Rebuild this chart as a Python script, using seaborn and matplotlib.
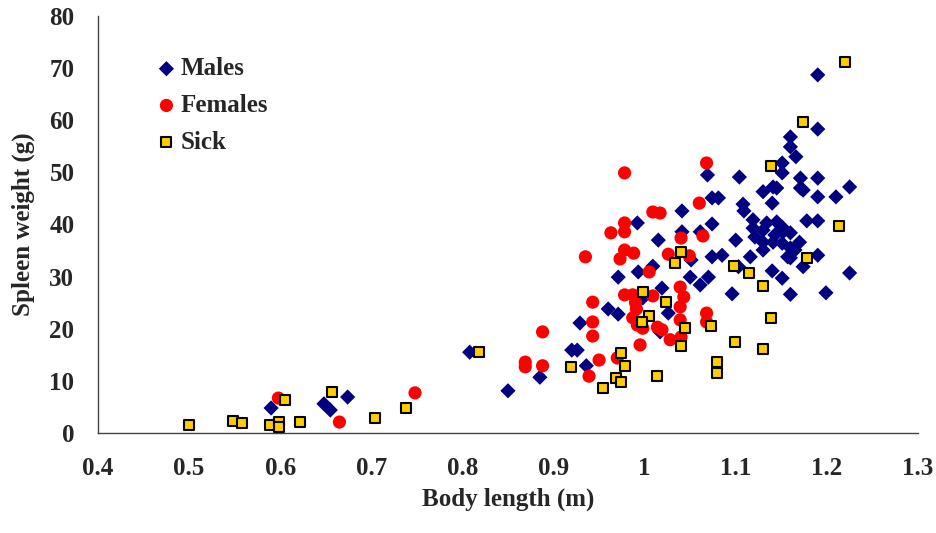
import pandas as pd
import seaborn as sns
import matplotlib.pyplot as plt

# values
males_x = [0.590, 0.648, 0.655, 0.674, 0.808, 0.850, 0.885, 0.920, 0.926, 0.929,
           0.936, 0.960, 0.971, 0.971, 0.992, 0.993, 0.998, 1.009, 1.015, 1.017,
           1.019, 1.026, 1.041, 1.041, 1.050, 1.051, 1.061, 1.061, 1.069, 1.070,
           1.074, 1.081, 1.074, 1.074, 1.085, 1.096, 1.100, 1.103, 1.104, 1.108,
           1.109, 1.116, 1.119, 1.119, 1.121, 1.130, 1.130, 1.130, 1.134, 1.140,
           1.140, 1.141, 1.141, 1.145, 1.145, 1.151, 1.151, 1.151, 1.151, 1.151,
           1.160, 1.160, 1.160, 1.160, 1.160, 1.160, 1.165, 1.166, 1.171, 1.171,
           1.174, 1.174, 1.178, 1.190, 1.190, 1.190, 1.190, 1.190, 1.190, 1.199,
           1.210, 1.225, 1.225, 1.152, 1.143, 1.157, 1.130, 1.170]
males_y = [4.8, 5.6, 4.4, 6.9, 15.5, 8.1, 10.7, 15.9, 15.9, 21.1,
           12.9, 23.8, 22.8, 29.9, 40.3, 30.9, 25.9, 32.0, 37.0, 19.4,
           27.8, 23.0, 42.6, 38.6, 29.9, 33.2, 38.6, 28.4, 49.5, 29.9,
           45.1, 45.1, 40.1, 33.8, 34.1, 26.7, 37.0, 31.9, 49.1, 43.9,
           42.6, 33.8, 40.9, 39.3, 37.6, 46.3, 38.9, 36.6, 40.3, 44.1,
           31.1, 47.2, 36.6, 47.0, 40.5, 51.8, 49.9, 39.5, 36.4, 29.7,
           56.8, 54.9, 38.4, 35.5, 33.6, 26.6, 35.1, 53.0, 48.9, 47.0,
           46.6, 31.9, 40.7, 68.7, 58.3, 48.9, 45.3, 40.7, 34.1, 26.9,
           45.3, 47.2, 30.7, 38.6, 38.0, 33.8, 35.1, 36.6]

females_x = [0.598, 0.665, 0.748, 0.869, 0.869, 0.888, 0.888, 0.935, 0.939, 0.943,
             0.943, 0.943, 0.950, 0.963, 0.970, 0.973, 0.978, 0.978, 0.978, 0.978,
             0.978, 0.987, 0.988, 0.990, 0.987, 0.992, 0.998, 0.995, 0.991, 1.005,
             1.009, 1.017, 1.009, 1.014, 1.019, 1.026, 1.028, 1.039, 1.043, 1.039,
             1.039, 1.040, 1.040, 1.049, 1.060, 1.064, 1.068, 1.068, 1.068]
females_y = [6.7, 2.1, 7.7, 13.6, 12.7, 19.4, 12.9, 33.8, 10.9, 25.1,
             21.3, 18.6, 14.0, 38.4, 14.4, 33.4, 49.9, 40.3, 38.6, 35.1,
             26.5, 26.5, 34.5, 25.0, 22.1, 20.7, 20.1, 16.9, 23.8, 30.9,
             42.4, 42.2, 26.3, 20.3, 19.8, 34.3, 17.9, 28.0, 26.1, 24.2,
             21.7, 37.4, 18.4, 34.0, 44.1, 37.8, 51.8, 23.0, 21.3]

sick_x = [0.500, 0.548, 0.558, 0.589, 0.599, 0.599, 0.605, 0.622, 0.657, 0.704,
          0.738, 0.818, 0.919, 0.954, 0.969, 0.974, 0.974, 0.978, 1.139, 1.040,
          1.033, 1.098, 1.115, 1.130, 0.998, 1.024, 1.005, 0.997, 1.044, 1.073,
          1.139, 1.040, 1.099, 1.130, 1.079, 1.079, 1.014, 1.220, 1.174, 1.213,
          1.178]
sick_y = [1.5, 2.3, 1.9, 1.5, 2.1, 1.2, 6.3, 2.1, 7.9, 2.9,
          4.8, 15.5, 12.7, 8.6, 10.6, 15.3, 9.8, 12.9, 51.3, 34.7,
          32.6, 32.0, 30.6, 28.2, 27.1, 25.1, 22.4, 21.3, 20.1, 20.5,
          22.1, 16.7, 17.5, 16.1, 13.6, 11.5, 10.9, 71.2, 59.7, 39.7,
          33.6]

x_ticks = [0.4, 0.5, 0.6, 0.7, 0.8, 0.9, 1.0, 1.1, 1.2, 1.3]
x_tick_labels = ["0.4", "0.5", "0.6", "0.7", "0.8", "0.9", "1", "1.1", "1.2", "1.3"]
y_ticks = [0, 10, 20, 30, 40, 50, 60, 70, 80]

males = pd.DataFrame({"length": males_x, "weight": males_y})
females = pd.DataFrame({"length": females_x, "weight": females_y})
sick = pd.DataFrame({"length": sick_x, "weight": sick_y})

sns.set_style("white")
plt.rcParams["font.family"] = ["Liberation Serif", "DejaVu Serif"]
plt.rcParams["font.weight"] = "bold"

fig = plt.figure(figsize=(9.36, 5.33), dpi=100)
ax = fig.add_axes([0.1047, 0.1876, 0.876, 0.7824])

sns.scatterplot(data=males, x="length", y="weight", marker="D", s=60,
                color="#000080", edgecolor="none", label="Males", ax=ax, zorder=3)
sns.scatterplot(data=females, x="length", y="weight", marker="o", s=90,
                color="#FF0000", edgecolor="none", label="Females", ax=ax, zorder=4)
sns.scatterplot(data=sick, x="length", y="weight", marker="s", s=58,
                color="#FFCC00", edgecolor="black", linewidth=1.5, label="Sick",
                ax=ax, zorder=5)

ax.set_xlim(0.4, 1.3)
ax.set_ylim(0, 80)
ax.set_xticks(x_ticks)
ax.set_xticklabels(x_tick_labels)
ax.set_yticks(y_ticks)

for side in ["top", "right"]:
    ax.spines[side].set_visible(False)
for side in ["left", "bottom"]:
    ax.spines[side].set_color("#444444")
    ax.spines[side].set_linewidth(1.0)

ax.tick_params(axis="both", direction="out", length=5, width=1.0, color="#444444",
               labelsize=18, pad=12)
for lab in ax.get_xticklabels() + ax.get_yticklabels():
    lab.set_fontweight("bold")

ax.set_xlabel("Body length (m)", fontsize=18, fontweight="bold", labelpad=6)
ax.set_ylabel("Spleen weight (g)", fontsize=18, fontweight="bold", labelpad=10)

ax.legend(loc="upper left", bbox_to_anchor=(0.056, 0.925), frameon=False,
          prop={"size": 18, "weight": "bold"}, handletextpad=0.05,
          labelspacing=0.55, handlelength=1.0, borderaxespad=0)

fig.savefig("out.png", dpi=100)
